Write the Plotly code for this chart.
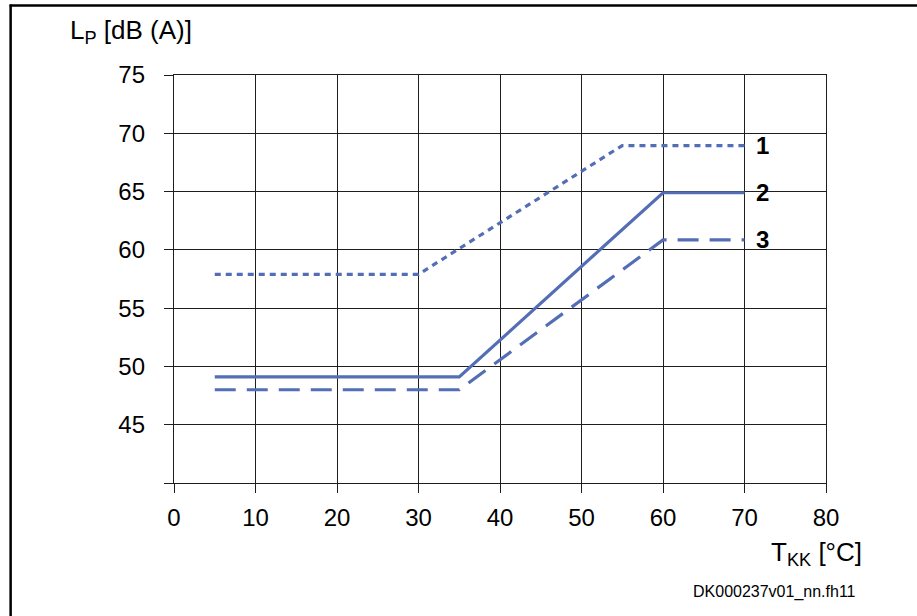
import plotly.graph_objects as go

# Sound pressure level vs. coolant temperature, three curves
temp_1 = [5, 30, 55, 70]
level_1 = [57.9, 57.9, 68.95, 68.95]

temp_2 = [5, 35, 60, 70]
level_2 = [49.1, 49.1, 64.9, 64.9]

temp_3 = [5, 35, 60, 70]
level_3 = [48.0, 48.0, 60.85, 60.85]

curve_labels = ["1", "2", "3"]

x_ticks = [0, 10, 20, 30, 40, 50, 60, 70, 80]
y_ticks = [40, 45, 50, 55, 60, 65, 70, 75]
y_ticktext = ["", "45", "50", "55", "60", "65", "70", "75"]

LINE_COLOR = "rgb(84,110,182)"
GRID_COLOR = "#1e1e1e"
FONT = "Liberation Sans, Arial, Helvetica, sans-serif"

W, H = 917, 616
ML, MR, MT, MB = 173.5, 91, 74.7, 132.7
PW = W - ML - MR
PH = H - MT - MB


def px_x(p):
    return (p - ML) / PW


def px_y(p):
    return (H - MB - p) / PH


fig = go.Figure()
series = [
    (temp_1, level_1, "6px,5px"),
    (temp_2, level_2, "solid"),
    (temp_3, level_3, "21px,11px"),
]
for xs, ys, dash in series:
    fig.add_trace(go.Scatter(
        x=xs, y=ys, mode="lines",
        line=dict(color=LINE_COLOR, width=3.2, dash=dash),
        hoverinfo="skip", showlegend=False,
    ))

# curve numbers at the right-hand ends
for (xs, ys, _), lab in zip(series, curve_labels):
    fig.add_annotation(
        x=xs[-1], y=ys[-1], text=f"<b>{lab}</b>", showarrow=False,
        xref="x", yref="y", xanchor="center", yanchor="middle",
        xshift=px_x(762) * PW - (xs[-1] / 80) * PW,
        font=dict(family=FONT, size=24, color="black"),
    )

shapes = [
    # white patch behind the curve numbers (between grid and traces)
    dict(type="rect", xref="paper", yref="paper",
         x0=px_x(733), x1=px_x(782), y0=px_y(265), y1=px_y(122),
         fillcolor="white", line=dict(width=0), layer="between"),
    # frame lines on the top and left
    dict(type="line", xref="paper", yref="paper",
         x0=px_x(9), x1=px_x(920), y0=px_y(5), y1=px_y(5),
         line=dict(color="black", width=2.5), layer="above"),
    dict(type="line", xref="paper", yref="paper",
         x0=px_x(10), x1=px_x(10), y0=px_y(4), y1=px_y(620),
         line=dict(color="black", width=2.5), layer="above"),
]

annotations = [
    dict(text="L<sub>P</sub> [dB (A)]", xref="paper", yref="paper",
         x=px_x(67), y=px_y(31), xanchor="left", yanchor="middle",
         showarrow=False, font=dict(family=FONT, size=26, color="black")),
    dict(text="T<sub>KK</sub> [°C]", xref="paper", yref="paper",
         x=px_x(864), y=px_y(554), xanchor="right", yanchor="middle",
         showarrow=False, font=dict(family=FONT, size=26, color="black")),
    dict(text="DK000237v01_nn.fh11", xref="paper", yref="paper",
         x=px_x(858), y=px_y(592), xanchor="right", yanchor="middle",
         showarrow=False, font=dict(family=FONT, size=16, color="black")),
]
for a in annotations:
    fig.add_annotation(**a)

axis_common = dict(
    showgrid=True, gridcolor=GRID_COLOR, gridwidth=1.4,
    showline=True, mirror=True, linecolor=GRID_COLOR, linewidth=1.4,
    ticks="outside", ticklen=9, tickwidth=1.4, tickcolor=GRID_COLOR,
    zeroline=False, tickfont=dict(family=FONT, size=24, color="black"),
)

fig.update_xaxes(range=[0, 80], tickmode="array", tickvals=x_ticks,
                 ticklabelstandoff=4, **axis_common)
fig.update_yaxes(range=[40, 75], tickmode="array", tickvals=y_ticks,
                 ticktext=y_ticktext, ticklabelstandoff=14, **axis_common)

fig.update_layout(
    width=W, height=H,
    margin=dict(l=ML, r=MR, t=MT, b=MB, pad=0),
    paper_bgcolor="white", plot_bgcolor="white",
    shapes=shapes,
    font=dict(family=FONT, color="black"),
)

fig.write_html("out.html")
